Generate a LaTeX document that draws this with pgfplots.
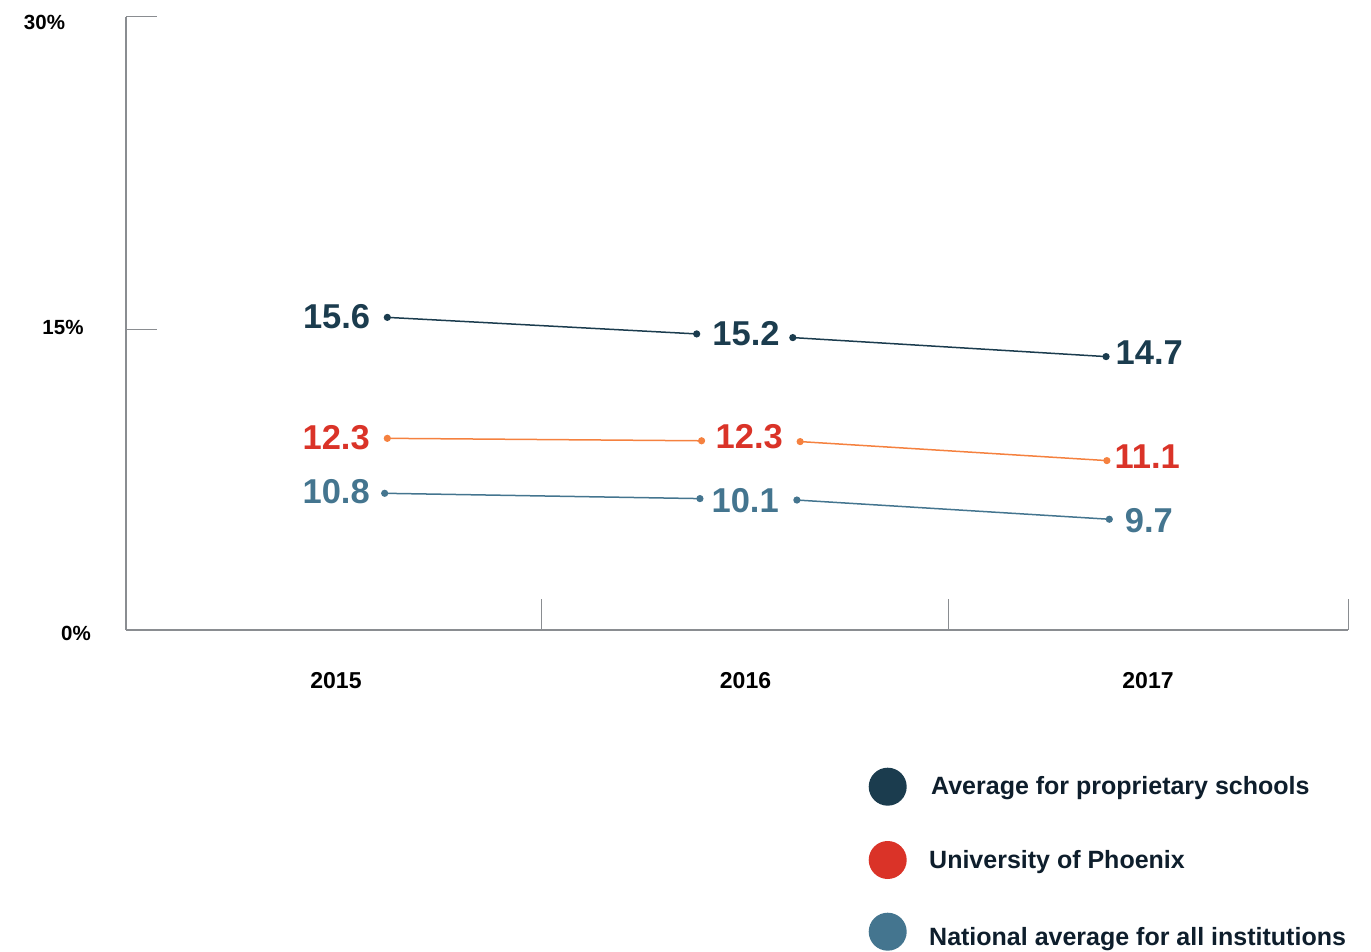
\documentclass[border=0pt]{standalone}
\usepackage{pgfplots}
\pgfplotsset{compat=1.18}
\usepackage{fontspec}
\setmainfont{Liberation Sans}
\definecolor{darkblue}{HTML}{1B3C4E}
\definecolor{orangeline}{HTML}{F5813F}
\definecolor{redlabel}{HTML}{DA3328}
\definecolor{midblue}{HTML}{44758F}
\definecolor{axisgray}{HTML}{8A8D91}
\definecolor{legtext}{HTML}{0E1E2C}
\begin{document}
\begin{tikzpicture}[x=1pt,y=1pt]
\useasboundingbox (0,0) rectangle (1371,951);
\begin{axis}[
  at={(126pt,321pt)}, anchor=south west,
  scale only axis, width=1222pt, height=613pt,
  xmin=0, xmax=3, ymin=0, ymax=30,
  axis lines=left,
  axis line style={-, color=axisgray, line width=1.3pt},
  xtick={1.019,2.020,3}, ytick={0,14.73,30},
  xticklabels={}, yticklabels={},
  tick align=inside, major tick length=31pt,
  tick style={axisgray, line width=1pt},
  clip=false,
  unbounded coords=jump,
]
% Average for proprietary schools
\addplot[darkblue, line width=1.5pt, mark=*, mark size=2.8pt] table {
x y
0.6415 15.30
1.401 14.49
nan nan
1.637 14.31
2.406 13.38
};
% University of Phoenix
\addplot[orangeline, line width=1.5pt, mark=*, mark size=2.8pt] table {
x y
0.6415 9.38
1.413 9.26
nan nan
1.655 9.22
2.408 8.29
};
% National average
\addplot[midblue, line width=1.5pt, mark=*, mark size=2.8pt] table {
x y
0.635 6.69
1.409 6.43
nan nan
1.647 6.36
2.414 5.42
};
\begin{scope}[every node/.style={inner sep=0pt, font=\fontsize{34.5pt}{40pt}\selectfont\bfseries}]
\node[darkblue] at (axis cs:0.517,15.33) {15.6};
\node[darkblue] at (axis cs:1.522,14.52) {15.2};
\node[darkblue] at (axis cs:2.512,13.58) {14.7};
\node[redlabel] at (axis cs:0.516,9.42) {12.3};
\node[redlabel] at (axis cs:1.530,9.45) {12.3};
\node[redlabel] at (axis cs:2.507,8.49) {11.1};
\node[midblue] at (axis cs:0.516,6.77) {10.8};
\node[midblue] at (axis cs:1.520,6.35) {10.1};
\node[midblue] at (axis cs:2.511,5.34) {9.7};
\end{scope}
\end{axis}
% y tick labels
\begin{scope}[every node/.style={inner sep=0pt, font=\fontsize{20.5pt}{24pt}\selectfont\bfseries}]
\node at (44.5,929) {30\%};
\node at (63,624) {15\%};
\node at (76,318) {0\%};
\end{scope}
% x tick labels
\begin{scope}[every node/.style={inner sep=0pt, font=\fontsize{23pt}{27pt}\selectfont\bfseries}]
\node at (336,270) {2015};
\node at (745.5,270) {2016};
\node at (1148,270) {2017};
\end{scope}
% legend
\fill[darkblue] (887.7,164.3) circle (19);
\fill[redlabel] (887.7,91) circle (19);
\fill[midblue] (887.7,19.3) circle (19);
\begin{scope}[every node/.style={inner sep=0pt, anchor=base west, text=legtext, font=\fontsize{25pt}{30pt}\selectfont\bfseries}]
\node at (931,156) {Average for proprietary schools};
\node at (929,83) {University of Phoenix};
\node at (929,6) {National average for all institutions};
\end{scope}
\end{tikzpicture}
\end{document}
